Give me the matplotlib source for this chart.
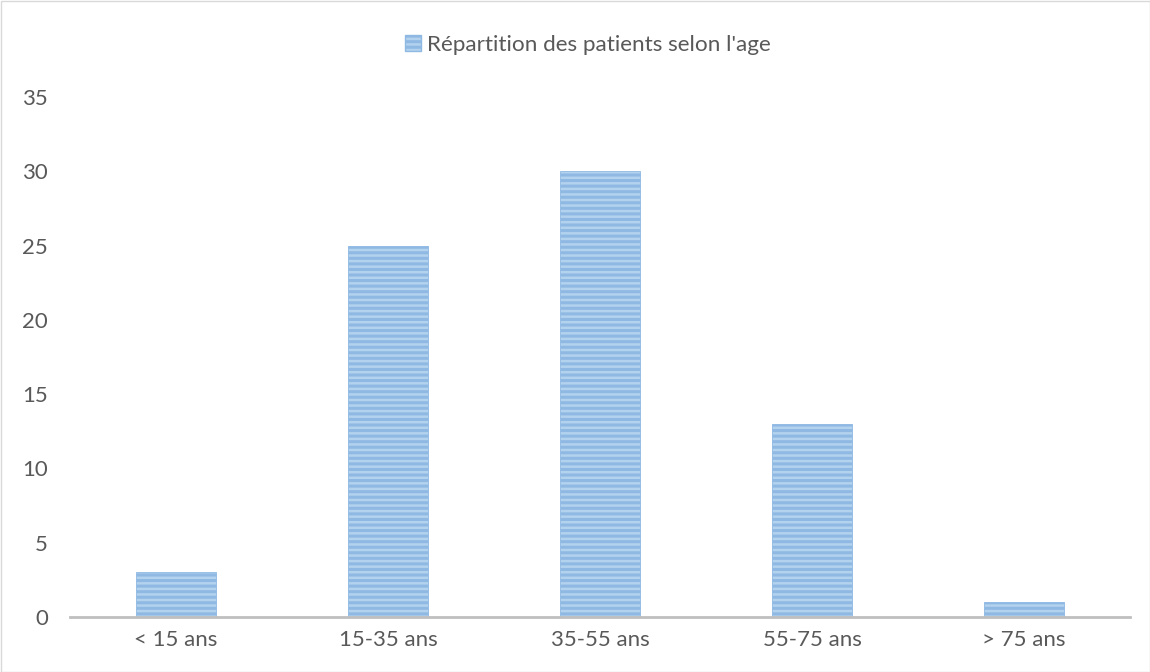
import matplotlib
matplotlib.use("Agg")
import matplotlib.pyplot as plt
from matplotlib.patches import Rectangle, Patch

categories = ["< 15 ans", "15-35 ans", "35-55 ans", "55-75 ans", "> 75 ans"]
patients = [3, 25, 30, 13, 1]
yticks = [0, 5, 10, 15, 20, 25, 30, 35]
series_name = "Répartition des patients selon l'age"

plt.rcParams['font.family'] = ['Lato', 'DejaVu Sans']
plt.rcParams['hatch.linewidth'] = 2.2
plt.rcParams['hatch.color'] = '#5B9BD5'

text_color = '#595959'
bar_face = '#B3D2EE'

fig = plt.figure(figsize=(11.5, 6.72), dpi=100)
ax = fig.add_axes([70 / 1150, 1 - 617 / 672, 1060 / 1150, 520 / 672])

x = range(len(categories))
ax.bar(x, patients, width=0.377, color=bar_face, edgecolor='#8FB9E3',
       linewidth=0.6, hatch='---', zorder=2)

ax.set_xlim(-0.5, len(categories) - 0.5)
ax.set_ylim(0, 35)
ax.set_yticks(yticks)
ax.set_xticks(list(x))
ax.set_xticklabels(categories)

for side in ('top', 'right', 'left'):
    ax.spines[side].set_visible(False)
ax.spines['bottom'].set_color('#BFBFBF')
ax.spines['bottom'].set_linewidth(2)
ax.tick_params(axis='both', length=0, colors=text_color, labelsize=16)
ax.tick_params(axis='y', pad=16)
ax.tick_params(axis='x', pad=9)

handle = Patch(facecolor=bar_face, edgecolor='#8FB9E3', hatch='---')
fig.legend([handle], [series_name], loc='center',
           bbox_to_anchor=(0.5 + 13 / 1150, 1 - 45 / 672),
           frameon=False, fontsize=16.2, labelcolor=text_color,
           handlelength=0.7, handleheight=0.7, handletextpad=0.25)

fig.patches.append(Rectangle((0.5 / 1150, 0.5 / 672), 1 - 1 / 1150, 1 - 1 / 672,
                             transform=fig.transFigure, fill=False,
                             edgecolor='#D9D9D9', linewidth=1))

fig.savefig("out.png", dpi=100)
